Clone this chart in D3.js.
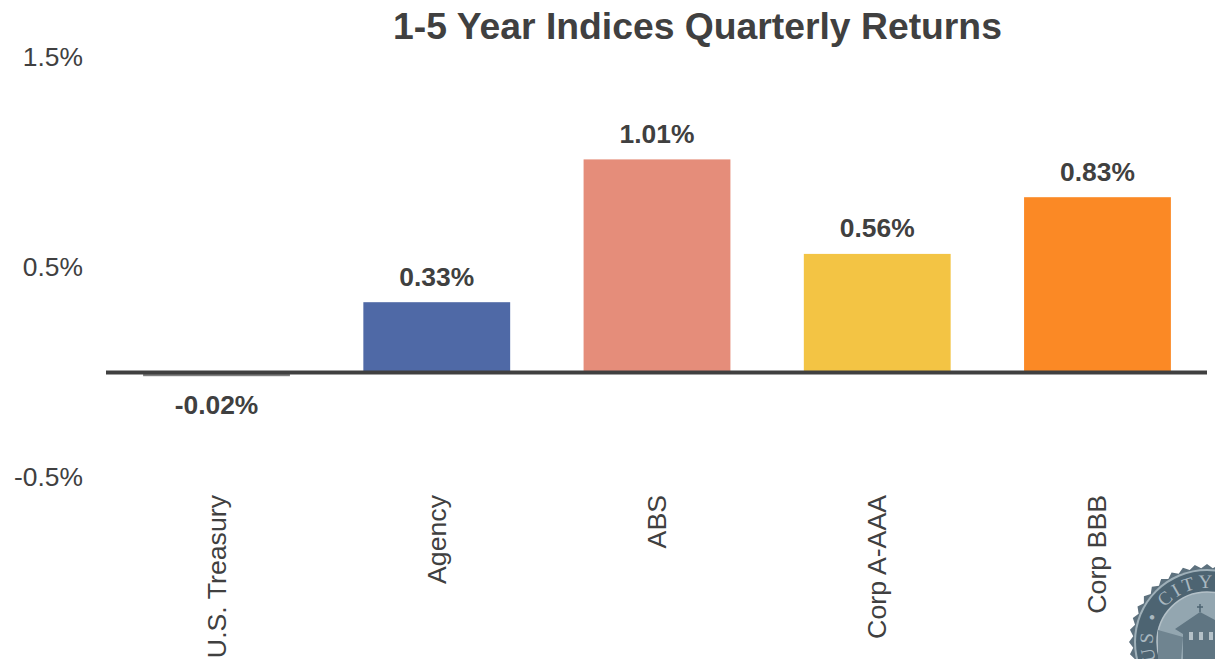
<!DOCTYPE html>
<html>
<head>
<meta charset="utf-8">
<script src="https://cdn.jsdelivr.net/npm/d3@7"></script>
<style>
  html, body { margin: 0; padding: 0; background: #fff; overflow: hidden; }
  svg { display: block; font-family: "Liberation Sans", Arial, sans-serif; }
  .tick-label { font-size: 26.4px; fill: #404040; }
  .cat-label { font-size: 26.7px; fill: #404040; }
  .value-label { font-size: 26.4px; font-weight: bold; fill: #404040; }
  .title { font-size: 37.3px; font-weight: bold; fill: #404040; }
</style>
</head>
<body>
<svg id="chart" width="1215" height="659"></svg>
<script>
var categories = ["U.S. Treasury", "Agency", "ABS", "Corp A-AAA", "Corp BBB"];
var returns = [-0.02, 0.33, 1.01, 0.56, 0.83];
var barColors = ["#7f7f7f", "#4f69a6", "#e58d7a", "#f3c444", "#fb8925"];
var yTicks = [1.5, 0.5, -0.5];

var svg = d3.select("#chart");

var xScale = d3.scaleBand()
    .domain(categories)
    .range([106.4, 1207.6])
    .paddingInner(1 / 3)
    .paddingOuter(1 / 6);

var yScale = d3.scaleLinear()
    .domain([-0.5, 1.5])
    .range([477, 57]);

svg.append("text")
    .attr("class", "title")
    .attr("x", 697.5)
    .attr("y", 39)
    .style("text-anchor", "middle")
    .text("1-5 Year Indices Quarterly Returns");

svg.selectAll("text.tick-label")
    .data(yTicks)
    .enter().append("text")
        .attr("class", "tick-label")
        .attr("x", 83)
        .attr("y", function(d) { return yScale(d); })
        .attr("dy", "0.34em")
        .style("text-anchor", "end")
        .text(function(d) { return d.toFixed(1) + "%"; });

var bar = svg.selectAll("g.bar")
    .data(categories)
    .enter().append("g")
        .attr("class", "bar");

bar.append("rect")
    .attr("x", function(d) { return xScale(d); })
    .attr("width", xScale.bandwidth())
    .attr("y", function(d, i) { return Math.min(yScale(returns[i]), yScale(0)) - 0.5; })
    .attr("height", function(d, i) { return Math.abs(yScale(returns[i]) - yScale(0)) + 0.5; })
    .attr("fill", function(d, i) { return barColors[i]; });

bar.append("text")
    .attr("class", "value-label")
    .attr("x", function(d) { return xScale(d) + xScale.bandwidth() / 2; })
    .attr("y", function(d, i) {
      return returns[i] < 0 ? yScale(returns[i]) + 38 : yScale(returns[i]) - 17;
    })
    .style("text-anchor", "middle")
    .text(function(d, i) { return returns[i].toFixed(2) + "%"; });

svg.append("line")
    .attr("x1", 106)
    .attr("x2", 1207)
    .attr("y1", yScale(0) + 0.5)
    .attr("y2", yScale(0) + 0.5)
    .attr("stroke", "#404040")
    .attr("stroke-width", 4);

svg.selectAll("text.cat-label")
    .data(categories)
    .enter().append("text")
        .attr("class", "cat-label")
        .attr("transform", function(d) {
          return `translate(${xScale(d) + xScale.bandwidth() / 2 + 9}, 495) rotate(-90)`;
        })
        .style("text-anchor", "end")
        .text(function(d) { return d; });

// seal in the bottom right corner, decoration only
var seal = svg.append("g")
    .attr("transform", "translate(1207, 642)");

var teeth = d3.range(0, 80).map(function(i) {
  var a = i / 80 * 2 * Math.PI;
  var r = i % 2 ? 74 : 78;
  return [r * Math.cos(a), r * Math.sin(a)];
});
seal.append("path")
    .attr("d", d3.line().curve(d3.curveLinearClosed)(teeth))
    .attr("fill", "#5d717e");
seal.append("circle").attr("r", 73).attr("fill", "#9fb0b9");
seal.append("circle").attr("r", 71).attr("fill", "#4d6472");
seal.append("circle").attr("r", 50).attr("fill", "#93a6b0");
seal.append("circle").attr("r", 50).attr("fill", "none")
    .attr("stroke", "#b4c1c8").attr("stroke-width", 1.5);

seal.append("path")
    .attr("id", "seal-arc")
    .attr("d", "M -50.7 18.5 A 54 54 0 0 1 25 -48")
    .attr("fill", "none");
seal.append("text")
    .attr("font-size", 19)
    .attr("fill", "#a9b8c0")
    .attr("font-family", "Liberation Serif, serif")
    .attr("letter-spacing", 3)
  .append("textPath")
    .attr("href", "#seal-arc")
    .attr("startOffset", "0%")
    .text("US • CITY");

// building
seal.append("path")
    .attr("d", "M -32 -13 L -7 -30 L 8 -22 L 8 17 L -24 17 L -24 -8 Z")
    .attr("fill", "#5f7582");
seal.append("path")
    .attr("d", "M -49 -12 L -24 -5 L -26 17 L -49 17 Z")
    .attr("fill", "#6f8490");
seal.append("path")
    .attr("d", "M -7 -30 V -38 M -10 -35 H -4")
    .attr("stroke", "#4d6472")
    .attr("stroke-width", 1.5)
    .attr("fill", "none");
seal.selectAll("rect.seal-window")
    .data(["win-a", "win-b", "win-c"])
    .enter().append("rect")
        .attr("class", "seal-window")
        .attr("x", function(d, i) { return -18 + i * 10; })
        .attr("y", -10)
        .attr("width", 4)
        .attr("height", 8)
        .attr("fill", "#b4c1c8");
</script>
</body>
</html>
